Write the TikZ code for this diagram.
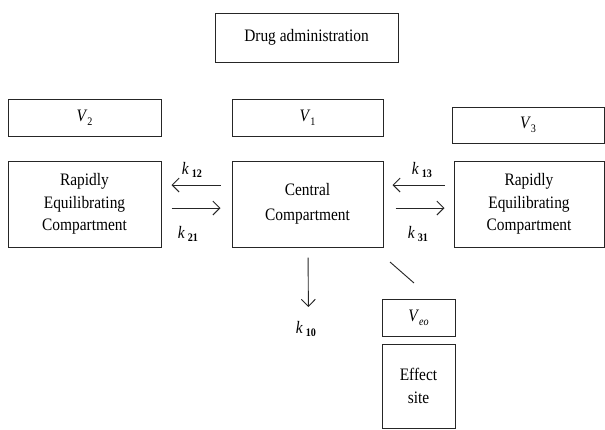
\documentclass[tikz,border=0pt]{standalone}
\usepackage{fontspec}
\setmainfont{Liberation Serif}[FakeStretch=0.88]
\usetikzlibrary{arrows.meta}
\tikzset{
  box/.style={draw=black!85, line width=1pt, inner sep=0pt, align=center, font=\fontsize{17.5}{22.5}\selectfont},
  klab/.style={inner sep=0pt, font=\fontsize{17.5}{18}\selectfont},
  flow/.style={draw=black!85, line width=0.9pt, -{Straight Barb[length=7pt,width=14pt,line width=0.9pt]}},
}
\newcommand{\kk}[1]{\textit{k}\,\raisebox{-3.5pt}{\fontsize{11.5}{11.5}\selectfont\bfseries #1}}
\newcommand{\vv}[1]{\textit{V}\raisebox{-4pt}{\fontsize{11.5}{11.5}\selectfont #1}}
\begin{document}
\begin{tikzpicture}[x=1pt,y=-1pt]
\useasboundingbox (0,0) rectangle (605,429);
\node[box, minimum width=183pt, minimum height=49pt] (drug) at (306.5,37.5) {Drug administration};
\node[box, minimum width=153pt, minimum height=37pt] (v2) at (84.5,117.5) {\vv{2}};
\node[box, minimum width=151pt, minimum height=37pt] (v1) at (307.5,117.5) {\vv{1}};
\node[box, minimum width=152pt, minimum height=36pt] (v3) at (528,125) {\vv{3}};
\node[box, minimum width=153pt, minimum height=86pt] (rc1) at (84.5,204) {Rapidly\\Equilibrating\\Compartment};
\node[box, minimum width=151pt, minimum height=86pt] (cc) at (307.5,204) {Central\\[2pt]Compartment};
\node[box, minimum width=150pt, minimum height=86pt] (rc3) at (529,204) {Rapidly\\Equilibrating\\Compartment};
\node[box, minimum width=73pt, minimum height=37pt] (veo) at (418.5,317.5) {\textit{V}\raisebox{-4pt}{\fontsize{11.5}{11.5}\selectfont\itshape eo}};
\node[box, minimum width=73pt, minimum height=84pt] (eff) at (418.5,386) {Effect\\site};
\node[klab] (k12) at (192,170) {\kk{12}};
\node[klab] (k21) at (188,234) {\kk{21}};
\node[klab] (k13) at (422,170) {\kk{13}};
\node[klab] (k31) at (418,234) {\kk{31}};
\node[klab] (k10) at (306,329) {\kk{10}};
\draw[flow, shorten <=11pt, shorten >=10pt] ([yshift=19pt]cc.west) -- ([yshift=19pt]rc1.east);
\draw[flow, shorten <=10pt, shorten >=11pt] ([yshift=-4pt]rc1.east) -- ([yshift=-4pt]cc.west);
\draw[flow, shorten <=9pt, shorten >=9pt] ([yshift=19pt]rc3.west) -- ([yshift=19pt]cc.east);
\draw[flow, shorten <=12pt, shorten >=9pt] ([yshift=-4pt]cc.east) -- ([yshift=-4pt]rc3.west);
\draw[flow, shorten <=10pt, shorten >=14pt] ([xshift=0.5pt]cc.south) -- ([xshift=2.5pt]k10.north);
\coordinate (d1) at (390,262);
\coordinate (d2) at (414,283);
\draw[draw=black!85, line width=0.9pt] (d1) -- (d2);
\end{tikzpicture}
\end{document}
